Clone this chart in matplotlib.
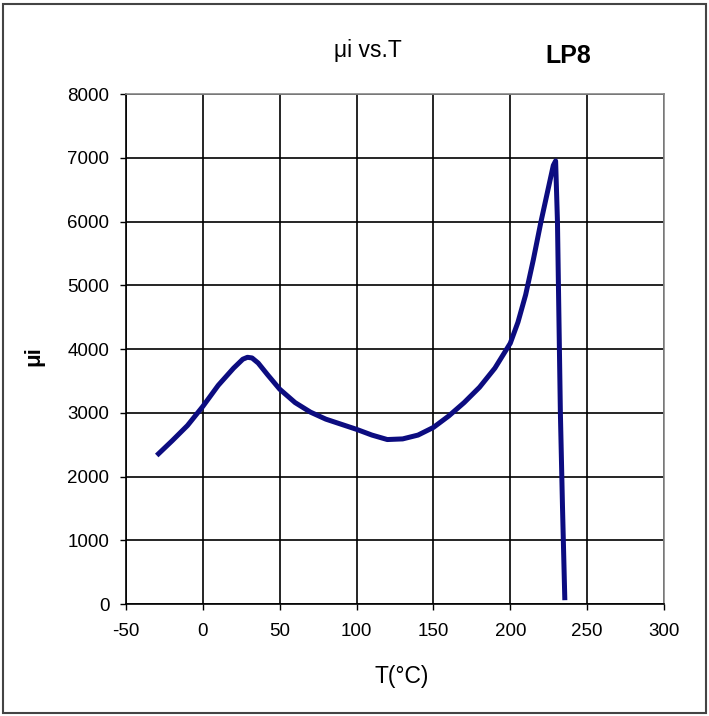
import matplotlib.pyplot as plt
from matplotlib.patches import Rectangle

# Values
temp_c = [-30, -20, -10, 0, 10, 20, 26, 29, 32, 36, 42, 50, 60, 70, 80, 90, 100,
          110, 120, 130, 140, 150, 160, 170, 180, 190, 200, 205, 210, 215, 220,
          225, 228, 229.5, 230.7, 232.6, 234, 235.5]
mu_i = [2330, 2560, 2800, 3100, 3430, 3700, 3840, 3870, 3860, 3780, 3600, 3370,
        3160, 3010, 2900, 2820, 2740, 2650, 2580, 2590, 2650, 2770, 2950, 3160,
        3400, 3700, 4090, 4420, 4850, 5400, 6000, 6550, 6880, 6950, 6000, 3000,
        1500, 60]

x_ticks = [-50, 0, 50, 100, 150, 200, 250, 300]
y_ticks = [0, 1000, 2000, 3000, 4000, 5000, 6000, 7000, 8000]

plt.rcParams["font.family"] = ["Liberation Sans", "DejaVu Sans"]
plt.rcParams["axes.unicode_minus"] = False

fig = plt.figure(figsize=(7.09, 7.16), dpi=100)
ax = fig.add_axes([0.1777, 0.1564, 0.7588, 0.7123])

ax.plot(temp_c, mu_i, color="#0c0c80", linewidth=3.6,
        solid_joinstyle="round", solid_capstyle="butt", zorder=3)

ax.set_xlim(-50, 300)
ax.set_ylim(0, 8000)
ax.set_xticks(x_ticks)
ax.set_yticks(y_ticks)
ax.tick_params(labelsize=13.5, direction="out", length=4, width=1)
ax.tick_params(axis="x", pad=10)
ax.tick_params(axis="y", pad=8)
ax.grid(True, color="black", linewidth=1.2)
ax.set_axisbelow(True)
for side in ["top", "right"]:
    ax.spines[side].set_color("#888888")
    ax.spines[side].set_linewidth(1.2)
for side in ["left", "bottom"]:
    ax.spines[side].set_color("black")
    ax.spines[side].set_linewidth(1.2)

# axis titles placed in figure coordinates to match the reference layout
fig.text(0.567, 1 - 683 / 716, "T(\u00b0C)", fontsize=16.5, ha="center", va="baseline")
fig.text(34 / 709, 1 - 356 / 716, "\u03bci", fontsize=16, fontweight="bold",
         rotation=90, ha="center", va="center")

fig.text(0.5187, 1 - 56.7 / 716, "\u03bci vs.T", fontsize=16.5, ha="center", va="baseline")
fig.text(0.801, 1 - 63 / 716, "LP8", fontsize=18, fontweight="bold",
         ha="center", va="baseline")

fig.patches.append(Rectangle((0.004, 0.004), 0.992, 0.990, transform=fig.transFigure,
                             fill=False, edgecolor="#444444", linewidth=1.5))

fig.savefig("out.png", dpi=100)
